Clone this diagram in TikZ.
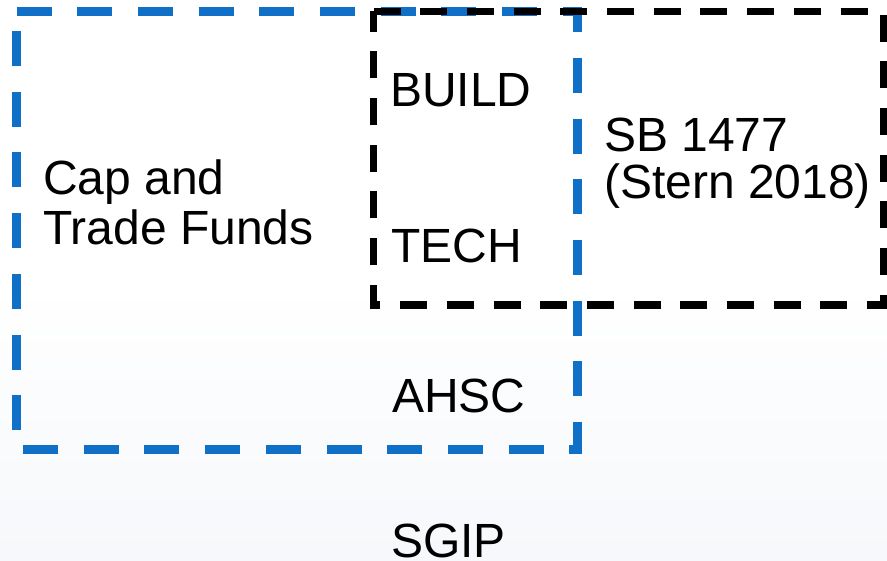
\documentclass[tikz,border=0pt]{standalone}
\usepackage{fontspec}
\setmainfont{Liberation Sans}
\definecolor{bluebox}{RGB}{16,111,198}
\definecolor{bglow}{RGB}{246,248,251}
\tikzset{
  bluedash/.style={draw=bluebox, line width=9pt, dash pattern=on 35pt off 25.7pt, line join=miter},
  blackdash/.style={draw=black, line width=7.5pt, dash pattern=on 27pt off 19.7pt, line join=miter},
  lbl/.style={inner sep=0pt, anchor=base west, align=left, font=\fontsize{48}{50}\selectfont}
}
\begin{document}
\begin{tikzpicture}[x=1pt,y=1pt]
\useasboundingbox (0,0) rectangle (887,-561);
\shade[top color=white, bottom color=bglow, middle color=white] (0,0) rectangle (887,-561);
% blue box
\coordinate (b1) at (16.5,-11.5);
\coordinate (b2) at (577,-11.5);
\coordinate (b3) at (577,-449.5);
\coordinate (b4) at (16.5,-449.5);
\draw[bluedash] (b1) -- (b2) -- (b3) -- (b4) -- cycle;
% black box
\coordinate (k1) at (373.5,-11.5);
\coordinate (k2) at (884,-11.5);
\coordinate (k3) at (884,-305);
\coordinate (k4) at (373.5,-305);
\draw[blackdash] (k1) -- (k2) -- (k3) -- (k4) -- cycle;
% labels (base anchor = last line's baseline)
\node[lbl] (cap) at (43,-244.3) {Cap and\\Trade Funds};
\node[lbl] (build) at (390,-107) {BUILD};
\node[lbl] (tech) at (391,-263) {TECH};
\node[lbl] (ahsc) at (392,-413) {AHSC};
\node[lbl] (sgip) at (391,-557) {SGIP};
\node[lbl, font=\fontsize{48}{46.6}\selectfont] (sb) at (604,-198.3) {SB 1477\\(Stern 2018)};
\end{tikzpicture}
\end{document}
